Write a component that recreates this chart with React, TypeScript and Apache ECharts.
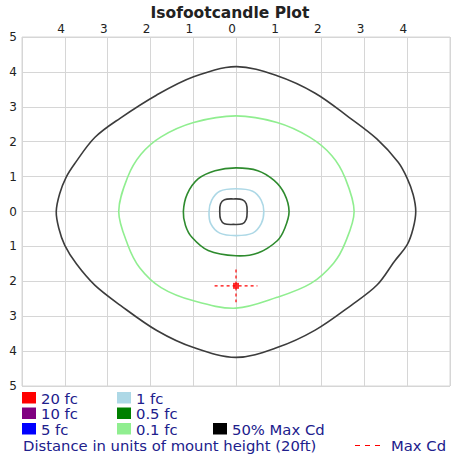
import React, { useEffect, useRef } from "react";
import * as echarts from "echarts";

// ---- data (units of mount height) ----
const axisMin = -5;
const axisMax = 5;

const contour50MaxCd: [number, number][] = [
  [0, 4.15], [0.96, 3.89], [1.85, 3.39], [2.64, 2.7], [3.29, 2.08], [3.79, 1.41],
  [4.0, 0.95], [4.14, 0.48], [4.2, 0], [4.14, -0.48], [4.0, -0.95], [3.7, -1.43],
  [3.3, -2.1], [2.7, -2.68], [1.85, -3.4], [0.96, -3.9], [0, -4.18], [-0.99, -3.9],
  [-1.85, -3.41], [-2.7, -2.69], [-3.3, -2.11], [-3.73, -1.5], [-4.0, -0.97],
  [-4.14, -0.48], [-4.2, 0], [-4.12, 0.51], [-3.97, 0.98], [-3.77, 1.37],
  [-3.3, 2.12], [-2.71, 2.67], [-1.85, 3.34], [-0.99, 3.86],
];

const contour01fc: [number, number][] = [
  [0, 2.74], [0.96, 2.55], [1.72, 2.13], [2.24, 1.6], [2.55, 0.96], [2.76, 0],
  [2.55, -0.9], [2.28, -1.48], [1.75, -2.06], [0.96, -2.46], [0, -2.77], [-0.99, -2.56],
  [-1.75, -2.18], [-2.25, -1.61], [-2.53, -0.95], [-2.74, 0], [-2.53, 0.99],
  [-2.22, 1.64], [-1.75, 2.14], [-0.99, 2.55],
];

const contour05fc: [number, number][] = [
  [0, 1.25], [0.51, 1.17], [0.89, 0.89], [1.13, 0.51], [1.24, 0], [1.14, -0.48],
  [0.97, -0.83], [0.51, -1.19], [0, -1.27], [-0.65, -1.12], [-1.03, -0.74],
  [-1.18, -0.4], [-1.23, 0], [-1.14, 0.5], [-0.88, 0.94], [-0.49, 1.17],
];

const contour1fc: [number, number][] = [
  [0, 0.65], [0.39, 0.58], [0.59, 0.32], [0.65, 0], [0.59, -0.35], [0.39, -0.62],
  [0, -0.69], [-0.38, -0.62], [-0.59, -0.35], [-0.63, 0], [-0.57, 0.32],
  [-0.38, 0.58],
];

const contourInner: [number, number][] = [
  [-0.06, 0.36], [0.15, 0.34], [0.24, 0.22], [0.26, 0], [0.24, -0.22], [0.15, -0.35],
  [-0.06, -0.37], [-0.27, -0.35], [-0.36, -0.22], [-0.38, 0], [-0.36, 0.22],
  [-0.27, 0.34],
];

const maxCdPoint: [number, number] = [0, -2.13];
const maxCdHalfWidth = 0.5;
const maxCdHalfHeight = 0.47;

const legendRows: { label: string; color: string }[][] = [
  [{ label: "20 fc", color: "#ff0000" }, { label: "10 fc", color: "#800080" }, { label: "5 fc", color: "#0000ff" }],
  [{ label: "1 fc", color: "#add8e6" }, { label: "0.5 fc", color: "#008000" }, { label: "0.1 fc", color: "#90ee90" }],
  [{ label: "50% Max Cd", color: "#000000" }],
];

const titleText = "Isofootcandle Plot";
const footerText = "Distance in units of mount height (20ft)";
const maxCdLabel = "Max Cd";

const LEGEND_TEXT = "#20208c";
const FONT = "DejaVu Sans";
const LEGEND_FONT = `14.8px "${FONT}"`;

function contourSeries(data: [number, number][], color: string, width: number) {
  return {
    type: "custom",
    data,
    silent: true,
    clip: true,
    z: 3,
    renderItem: (params: any, api: any) => {
      if (params.dataIndex !== 0) return null;
      const pts = data.map((p) => api.coord(p));
      return {
        type: "polygon",
        shape: { points: pts, smooth: 0.34 },
        style: { fill: "none", stroke: color, lineWidth: width },
      };
    },
  };
}

export default function App() {
  const ref = useRef<HTMLDivElement>(null);

  useEffect(() => {
    if (!ref.current) return;
    const chart = echarts.init(ref.current, undefined, { renderer: "svg" });

    const graphics: any[] = [];
    graphics.push({
      type: "text",
      style: {
        text: titleText, x: 230, y: 13, font: `bold 15.5px "${FONT}"`, fill: "#222",
        textAlign: "center", textVerticalAlign: "middle", align: "center", verticalAlign: "middle",
      },
    });
    const colX = [22, 117, 213];
    const rowY = [392, 407.5, 423];
    legendRows.forEach((col, ci) => {
      col.forEach((item, ri) => {
        const x = colX[ci];
        const y = ci === 2 ? rowY[2] : rowY[ri];
        graphics.push({ type: "rect", shape: { x, y, width: 14, height: 11.5 }, style: { fill: item.color } });
        graphics.push({
          type: "text",
          style: {
            text: item.label, x: x + 19, y: y + 6, font: LEGEND_FONT, fill: LEGEND_TEXT,
            textVerticalAlign: "middle", verticalAlign: "middle",
          },
        });
      });
    });
    graphics.push({
      type: "text",
      style: {
        text: footerText, x: 23, y: 445.5, font: LEGEND_FONT, fill: LEGEND_TEXT,
        textVerticalAlign: "middle", verticalAlign: "middle",
      },
    });
    graphics.push({
      type: "line",
      shape: { x1: 355, y1: 445.5, x2: 380, y2: 445.5 },
      style: { stroke: "#ff0000", lineWidth: 1, lineDash: [5, 5] },
    });
    graphics.push({
      type: "text",
      style: {
        text: maxCdLabel, x: 391, y: 445.5, font: LEGEND_FONT, fill: LEGEND_TEXT,
        textVerticalAlign: "middle", verticalAlign: "middle",
      },
    });

    const [mx, my] = maxCdPoint;

    chart.setOption({
      animation: false,
      grid: {
        left: 22, top: 37, width: 432, height: 349,
        show: true, borderColor: "#d6d6d6", borderWidth: 1, containLabel: false,
      },
      xAxis: {
        type: "value", position: "top", min: axisMin, max: axisMax, interval: 1,
        axisLine: { show: false }, axisTick: { show: false },
        splitLine: { show: true, lineStyle: { color: "#d6d6d6", width: 1 } },
        axisLabel: {
          margin: 2, color: "#222", fontFamily: FONT, fontSize: 12, align: "right",
          formatter: (v: number) => (Math.abs(v) === 5 ? "" : String(Math.abs(v))),
        },
      },
      yAxis: {
        type: "value", min: axisMin, max: axisMax, interval: 1,
        axisLine: { show: false }, axisTick: { show: false },
        splitLine: { show: true, lineStyle: { color: "#d6d6d6", width: 1 } },
        axisLabel: {
          margin: 5, color: "#222", fontFamily: FONT, fontSize: 12,
          formatter: (v: number) => String(Math.abs(v)),
        },
      },
      series: [
        contourSeries(contour50MaxCd, "#3c3c3c", 1.6),
        contourSeries(contour01fc, "#90ee90", 1.6),
        contourSeries(contour05fc, "#2e8b2e", 1.6),
        contourSeries(contour1fc, "#add8e6", 1.6),
        contourSeries(contourInner, "#3c3c3c", 1.6),
        {
          type: "line", data: [[mx - maxCdHalfWidth, my], [mx + maxCdHalfWidth, my]],
          showSymbol: false, lineStyle: { color: "#ff0000", width: 1.2, type: [3, 3] }, z: 4,
        },
        {
          type: "line", data: [[mx, my + maxCdHalfHeight], [mx, my - maxCdHalfHeight]],
          showSymbol: false, lineStyle: { color: "#ff0000", width: 1.2, type: [3, 3] }, z: 4,
        },
        {
          type: "scatter", data: [maxCdPoint], symbol: "rect", symbolSize: 6,
          itemStyle: { color: "#ff0000" }, z: 5,
        },
      ],
      graphic: graphics,
    });

    return () => chart.dispose();
  }, []);

  return (
    <div
      ref={ref}
      style={{ position: "absolute", left: 0, top: 0, width: 453, height: 458, background: "#fff" }}
    />
  );
}
